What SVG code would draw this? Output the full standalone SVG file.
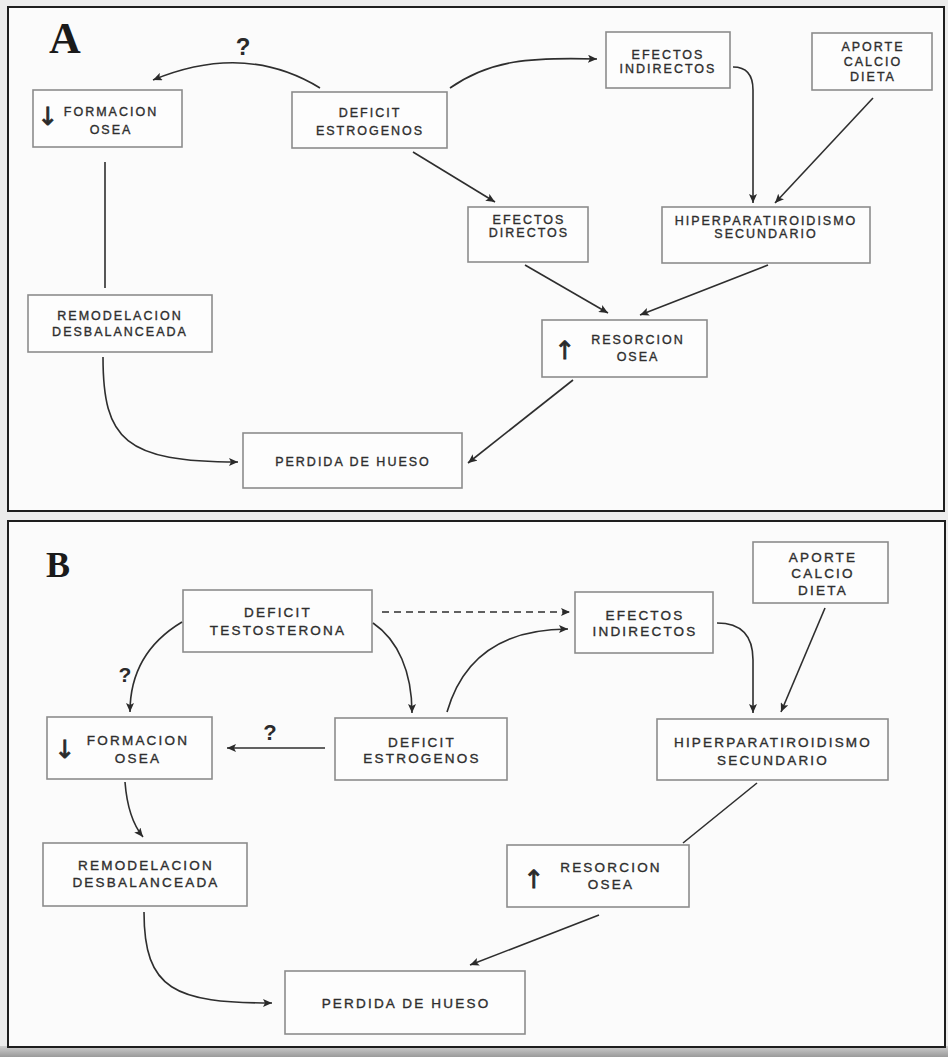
<svg xmlns="http://www.w3.org/2000/svg" width="948" height="1057" viewBox="0 0 948 1057">
  <defs>
    <marker id="ah" markerUnits="userSpaceOnUse" markerWidth="10" markerHeight="8" refX="9" refY="4" orient="auto">
      <path d="M0,0 L9,4 L0,8 L2,4 Z" fill="#2a2a2a"/>
    </marker>
    <linearGradient id="shade" x1="0" y1="0" x2="0" y2="1">
      <stop offset="0" stop-color="#cfcfcf"/>
      <stop offset="1" stop-color="#9a9a9a"/>
    </linearGradient>
  </defs>
  <style>
    .panel { fill: #fbfbfb; stroke: #1e1e1e; stroke-width: 2; }
    .box { fill: #fdfdfd; stroke: #8c8c8c; stroke-width: 1.6; }
    .lbl { font-family: "Liberation Sans", Arial, sans-serif; font-size: 12.5px; letter-spacing: 2px; fill: #2e2e2e; stroke: #2e2e2e; stroke-width: 0.35; text-anchor: middle; }
    .lblB { font-size: 13.5px; letter-spacing: 2.2px; }
    .sym { font-family: "DejaVu Sans", sans-serif; font-size: 25px; fill: #2a2a2a; stroke: #2a2a2a; stroke-width: 0.8; text-anchor: middle; }
    .q { font-family: "Liberation Sans", Arial, sans-serif; font-weight: bold; fill: #2a2a2a; text-anchor: middle; }
    .tag { font-family: "Liberation Serif", "Times New Roman", serif; font-weight: bold; fill: #1a1a1a; }
    .ln { fill: none; stroke: #2e2e2e; stroke-width: 1.6; }
    .arr { marker-end: url(#ah); }
    .dash { stroke-dasharray: 7 5; }
  </style>

  <!-- page -->
  <rect x="0" y="0" width="948" height="1057" fill="#ececec"/>
  <rect x="0" y="1046" width="948" height="11" fill="url(#shade)"/>

  <!-- panel frames -->
  <rect class="panel" x="8" y="7" width="936" height="504"/>
  <rect class="panel" x="8" y="521" width="937" height="526"/>

  <!-- ============ Panel A ============ -->
  <text class="tag" x="49" y="53" font-size="44">A</text>

  <g id="a-formacion">
    <rect class="box" x="33" y="90" width="149" height="57"/>
    <text class="sym" x="48" y="125">↓</text>
    <text class="lbl" x="111" y="116">FORMACION</text>
    <text class="lbl" x="111" y="134">OSEA</text>
  </g>
  <g id="a-deficit-estrogenos">
    <rect class="box" x="292" y="92" width="155" height="56"/>
    <text class="lbl" x="370" y="117">DEFICIT</text>
    <text class="lbl" x="370" y="135">ESTROGENOS</text>
  </g>
  <g id="a-efectos-indirectos">
    <rect class="box" x="606" y="32" width="124" height="56"/>
    <text class="lbl" x="668" y="59">EFECTOS</text>
    <text class="lbl" x="668" y="73">INDIRECTOS</text>
  </g>
  <g id="a-aporte-calcio">
    <rect class="box" x="812" y="33" width="120" height="57"/>
    <text class="lbl" x="873" y="51">APORTE</text>
    <text class="lbl" x="873" y="66">CALCIO</text>
    <text class="lbl" x="873" y="81">DIETA</text>
  </g>
  <g id="a-efectos-directos">
    <rect class="box" x="468" y="207" width="120" height="55"/>
    <text class="lbl" x="529" y="224">EFECTOS</text>
    <text class="lbl" x="529" y="237">DIRECTOS</text>
  </g>
  <g id="a-hiperparatiroidismo">
    <rect class="box" x="662" y="207" width="208" height="56"/>
    <text class="lbl" x="766" y="225">HIPERPARATIROIDISMO</text>
    <text class="lbl" x="766" y="238">SECUNDARIO</text>
  </g>
  <g id="a-resorcion">
    <rect class="box" x="542" y="320" width="165" height="57"/>
    <text class="sym" x="565" y="359">↑</text>
    <text class="lbl" x="638" y="344">RESORCION</text>
    <text class="lbl" x="638" y="361">OSEA</text>
  </g>
  <g id="a-remodelacion">
    <rect class="box" x="28" y="295" width="184" height="57"/>
    <text class="lbl" x="120" y="320">REMODELACION</text>
    <text class="lbl" x="120" y="336">DESBALANCEADA</text>
  </g>
  <g id="a-perdida">
    <rect class="box" x="243" y="433" width="219" height="55"/>
    <text class="lbl" x="353" y="466">PERDIDA DE HUESO</text>
  </g>

  <text class="q" x="243" y="55" font-size="24">?</text>

  <g id="a-connectors">
    <path class="ln arr" d="M320,88 Q245,42 153,80"/>
    <path class="ln arr" d="M450,88 C490,60 530,57 597,59"/>
    <path class="ln arr" d="M413,152 L495,202"/>
    <path class="ln arr" d="M733,67 Q753,67 753,90 L753,203"/>
    <path class="ln arr" d="M873,98 L775,203"/>
    <path class="ln arr" d="M525,265 L608,313"/>
    <path class="ln arr" d="M768,265 L640,315"/>
    <path class="ln arr" d="M573,380 L468,463"/>
    <path class="ln" d="M105,162 L105,288"/>
    <path class="ln arr" d="M103,357 C103,440 125,462 238,462"/>
  </g>

  <!-- ============ Panel B ============ -->
  <text class="tag" x="46" y="577" font-size="36">B</text>

  <g id="b-deficit-testosterona">
    <rect class="box" x="183" y="590" width="189" height="62"/>
    <text class="lbl lblB" x="278" y="617">DEFICIT</text>
    <text class="lbl lblB" x="278" y="635">TESTOSTERONA</text>
  </g>
  <g id="b-formacion">
    <rect class="box" x="47" y="717" width="165" height="62"/>
    <text class="sym" x="65" y="758">↓</text>
    <text class="lbl lblB" x="138" y="745">FORMACION</text>
    <text class="lbl lblB" x="138" y="763">OSEA</text>
  </g>
  <g id="b-deficit-estrogenos">
    <rect class="box" x="335" y="718" width="172" height="62"/>
    <text class="lbl lblB" x="422" y="747">DEFICIT</text>
    <text class="lbl lblB" x="422" y="763">ESTROGENOS</text>
  </g>
  <g id="b-efectos-indirectos">
    <rect class="box" x="575" y="592" width="138" height="61"/>
    <text class="lbl lblB" x="645" y="620">EFECTOS</text>
    <text class="lbl lblB" x="645" y="636">INDIRECTOS</text>
  </g>
  <g id="b-aporte-calcio">
    <rect class="box" x="753" y="542" width="135" height="61"/>
    <text class="lbl lblB" x="823" y="562">APORTE</text>
    <text class="lbl lblB" x="823" y="578">CALCIO</text>
    <text class="lbl lblB" x="823" y="595">DIETA</text>
  </g>
  <g id="b-hiperparatiroidismo">
    <rect class="box" x="657" y="719" width="231" height="61"/>
    <text class="lbl lblB" x="773" y="747">HIPERPARATIROIDISMO</text>
    <text class="lbl lblB" x="773" y="765">SECUNDARIO</text>
  </g>
  <g id="b-resorcion">
    <rect class="box" x="507" y="845" width="182" height="62"/>
    <text class="sym" x="534" y="888">↑</text>
    <text class="lbl lblB" x="611" y="872">RESORCION</text>
    <text class="lbl lblB" x="611" y="889">OSEA</text>
  </g>
  <g id="b-remodelacion">
    <rect class="box" x="43" y="843" width="204" height="63"/>
    <text class="lbl lblB" x="146" y="870">REMODELACION</text>
    <text class="lbl lblB" x="146" y="887">DESBALANCEADA</text>
  </g>
  <g id="b-perdida">
    <rect class="box" x="285" y="971" width="240" height="63"/>
    <text class="lbl lblB" x="406" y="1008">PERDIDA DE HUESO</text>
  </g>

  <text class="q" x="125" y="682" font-size="21">?</text>
  <text class="q" x="270" y="740" font-size="22">?</text>

  <g id="b-connectors">
    <path class="ln arr" d="M182,622 C152,640 130,668 130,712"/>
    <path class="ln arr" d="M373,623 C398,640 412,672 412,713"/>
    <path class="ln arr dash" d="M382,612 L570,612"/>
    <path class="ln arr" d="M447,712 C462,660 500,629 568,629"/>
    <path class="ln arr" d="M325,748 L227,748"/>
    <path class="ln arr" d="M717,623 Q753,623 753,660 L753,713"/>
    <path class="ln arr" d="M825,608 L781,712"/>
    <path class="ln" d="M757,783 L683,843"/>
    <path class="ln arr" d="M599,915 L470,965"/>
    <path class="ln arr" d="M125,782 C127,808 134,826 143,837"/>
    <path class="ln arr" d="M144,912 C144,990 175,1003 272,1003"/>
  </g>
</svg>
